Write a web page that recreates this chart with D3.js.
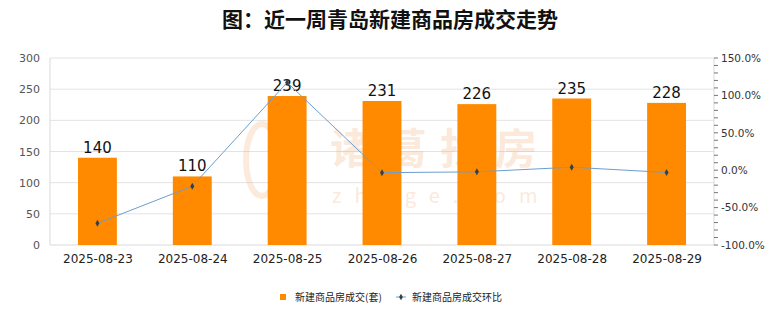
<!DOCTYPE html>
<html><head><meta charset="utf-8">
<script src="https://cdn.jsdelivr.net/npm/d3@7"></script>
<style>body{margin:0;background:#fff}svg{display:block;font-family:"Noto Sans CJK SC","DejaVu Sans",sans-serif}</style>
</head><body><svg id="c" width="780" height="328"></svg>
<script>
const title = "图：近一周青岛新建商品房成交走势";
const categories = ["2025-08-23","2025-08-24","2025-08-25","2025-08-26","2025-08-27","2025-08-28","2025-08-29"];
const deals = [140,110,239,231,226,235,228];
const momPct = [-71.0,-21.4,117.3,-3.3,-2.2,4.0,-3.0];
const leftTicks = [0,50,100,150,200,250,300];
const rightTicks = [-100,-50,0,50,100,150];
const seriesNames = ["新建商品房成交(套)","新建商品房成交环比"];

const svg = d3.select("#c");
const L=50, R=714, T=58, B=245;
const x = d3.scaleBand().domain(categories).range([L,R]).paddingInner(0.59).paddingOuter(0.295);
const xc = d3.scalePoint().domain(categories).range([L,R]).padding(0.5);
const y = d3.scaleLinear().domain([0,300]).range([B,T]);
const y2 = d3.scaleLinear().domain([-100,150]).range([B,T]);

svg.append("text").attr("x",390).attr("y",27).attr("text-anchor","middle")
  .attr("font-size",21).attr("font-weight","bold").attr("fill","#111").text(title);

// grid
svg.append("g").selectAll("line").data(leftTicks.slice(1)).join("line")
  .attr("x1",L).attr("x2",R).attr("y1",d=>y(d)).attr("y2",d=>y(d))
  .attr("stroke","#e3e3e3").attr("stroke-width",1);
svg.append("line").attr("x1",L).attr("x2",L).attr("y1",T).attr("y2",B).attr("stroke","#d9d9d9");
svg.append("line").attr("x1",R).attr("x2",R).attr("y1",T).attr("y2",B).attr("stroke","#d9d9d9");
svg.append("line").attr("x1",L).attr("x2",R).attr("y1",B).attr("y2",B).attr("stroke","#d9d9d9");

// watermark
const wm = svg.append("g").attr("opacity",0.22).attr("fill","#f0a060");
wm.append("ellipse").attr("cx",262).attr("cy",160).attr("rx",16).attr("ry",36).attr("fill","none").attr("stroke","#f0a060").attr("stroke-width",6);
wm.append("text").attr("x",330).attr("y",164).attr("font-size",42).attr("font-weight","bold").attr("letter-spacing",13).text("诸葛找房");
wm.append("text").attr("x",332).attr("y",203).attr("font-size",20).attr("letter-spacing",13).text("zhuge.com");

// left axis
const ga = svg.append("g").attr("transform",`translate(${L},0)`)
  .call(d3.axisLeft(y).tickValues(leftTicks).tickSize(0).tickPadding(10));
ga.select(".domain").remove();
ga.selectAll("text").attr("font-size",11).attr("fill","#555").attr("font-family","DejaVu Sans, sans-serif");

// right axis
const minor = d3.range(-100,151,10);
svg.append("g").selectAll("line").data(minor).join("line")
  .attr("x1",R).attr("x2",R+4).attr("y1",d=>y2(d)).attr("y2",d=>y2(d)).attr("stroke","#777");
const gr = svg.append("g").attr("transform",`translate(${R},0)`)
  .call(d3.axisRight(y2).tickValues(rightTicks).tickSize(0).tickPadding(7).tickFormat(d=>d.toFixed(1)+"%"));
gr.select(".domain").remove();
gr.selectAll("text").attr("font-size",10.5).attr("fill","#333").attr("font-family","DejaVu Sans, sans-serif");

// x axis
const gx = svg.append("g").attr("transform",`translate(0,${B})`)
  .call(d3.axisBottom(xc).tickSize(0).tickPadding(9));
gx.select(".domain").remove();
gx.selectAll("text").attr("font-size",12).attr("fill","#222").attr("font-family","DejaVu Sans, sans-serif");

// bars
svg.append("g").selectAll("rect").data(deals).join("rect")
  .attr("x",(d,i)=>x(categories[i])).attr("width",x.bandwidth())
  .attr("y",d=>y(d)).attr("height",d=>B-y(d)).attr("fill","#ff8a00");
svg.append("g").selectAll("text").data(deals).join("text")
  .attr("x",(d,i)=>xc(categories[i])).attr("y",d=>y(d)-5).attr("text-anchor","middle")
  .attr("font-size",15).attr("fill","#111").attr("font-family","DejaVu Sans, sans-serif").text(d=>d);

// line
const line = d3.line().x((d,i)=>xc(categories[i])).y(d=>y2(d));
svg.append("path").datum(momPct).attr("d",line).attr("fill","none").attr("stroke","#6f9ccc").attr("stroke-width",1);
svg.append("g").selectAll("path").data(momPct).join("path")
  .attr("transform",(d,i)=>`translate(${xc(categories[i])},${y2(d)})`)
  .attr("d",d3.symbol(d3.symbolDiamond,14)).attr("fill","#3a3f44");

// legend
const lg = svg.append("g").attr("font-size",10).attr("fill","#222");
lg.append("rect").attr("x",280).attr("y",294).attr("width",6).attr("height",6).attr("fill","#ff8a00");
lg.append("text").attr("x",295).attr("y",301).text(seriesNames[0]);
lg.append("line").attr("x1",396).attr("x2",406).attr("y1",297).attr("y2",297).attr("stroke","#6f9ccc");
lg.append("path").attr("transform","translate(401,297)").attr("d",d3.symbol(d3.symbolDiamond,12)).attr("fill","#3a3f44");
lg.append("text").attr("x",412).attr("y",301).text(seriesNames[1]);
</script></body></html>
